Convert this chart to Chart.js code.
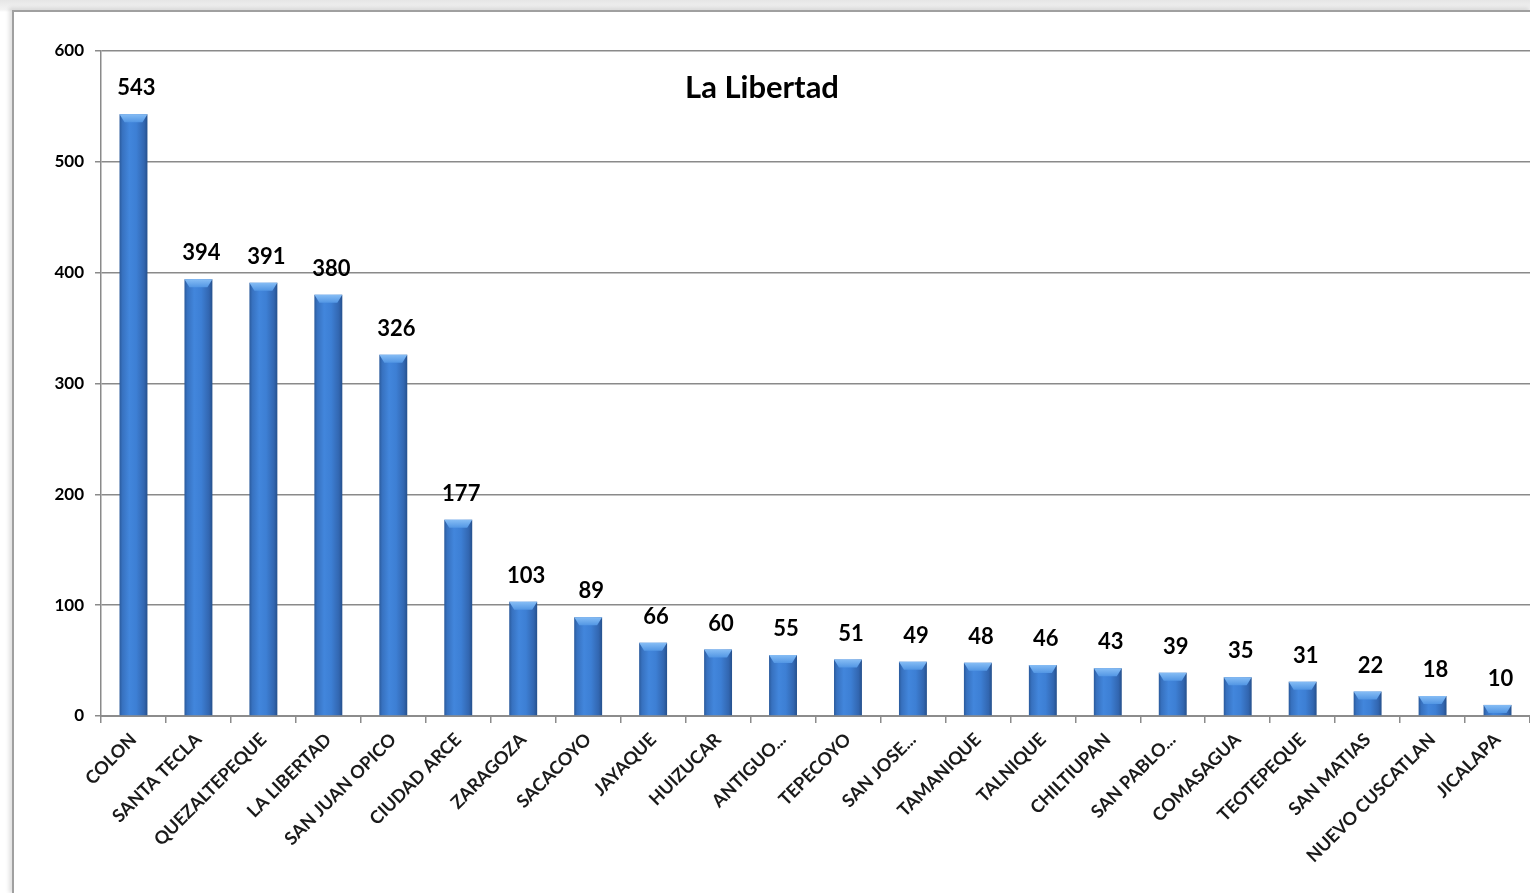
<!DOCTYPE html>
<html>
<head>
  <meta charset="UTF-8">
  <title>La Libertad</title>
  <script src="https://cdn.jsdelivr.net/npm/chart.js"></script>
  <style>
    html, body { margin: 0; padding: 0; background: #ffffff; }
    body { width: 1530px; height: 893px; overflow: hidden; position: relative;
           background: linear-gradient(#e6e6e6, #f4f4f4 10px, #ffffff 12px); }
    #marco { position: absolute; left: 12px; top: 10px; width: 1518px; height: 883px;
             background: #ffffff; border-left: 2px solid #a0a0a0; border-top: 2px solid #a0a0a0;
             box-shadow: -3px -2px 4px rgba(0,0,0,0.12); }
  </style>
</head>
<body>
  <div id="marco">
    <canvas id="grafica" width="1516" height="881"></canvas>
  </div>
  <script>
    // municipios y casos
    const municipios = ["COLON", "SANTA TECLA", "QUEZALTEPEQUE", "LA LIBERTAD", "SAN JUAN OPICO",
      "CIUDAD ARCE", "ZARAGOZA", "SACACOYO", "JAYAQUE", "HUIZUCAR", "ANTIGUO...", "TEPECOYO",
      "SAN JOSE...", "TAMANIQUE", "TALNIQUE", "CHILTIUPAN", "SAN PABLO...", "COMASAGUA",
      "TEOTEPEQUE", "SAN MATIAS", "NUEVO CUSCATLAN", "JICALAPA"];
    const casos = [543, 394, 391, 380, 326, 177, 103, 89, 66, 60, 55, 51, 49, 48, 46, 43, 39, 35, 31, 22, 18, 10];
    const ticksY = [0, 100, 200, 300, 400, 500, 600];
    const titulo = "La Libertad";

    const anchoBarra = 0.43;
    const fuente = "Lato, 'Open Sans', sans-serif";

    // degradado horizontal de cada barra (efecto cilindro)
    function colorBarra(ctx) {
      const chart = ctx.chart;
      if (!chart.chartArea || !chart.scales.x) return "#3d7fd6";
      const x = chart.scales.x.getPixelForValue(ctx.dataIndex);
      const w = chart.scales.x.width / municipios.length * anchoBarra;
      const g = chart.ctx.createLinearGradient(x - w / 2, 0, x + w / 2, 0);
      g.addColorStop(0, "#2a5a9c");
      g.addColorStop(0.1, "#3771bf");
      g.addColorStop(0.35, "#4286dc");
      g.addColorStop(0.6, "#3d7fd4");
      g.addColorStop(0.88, "#3266b0");
      g.addColorStop(1, "#25508c");
      return g;
    }

    // tapa clara arriba de cada barra y valores encima
    const extras = {
      id: "extras",
      afterDatasetsDraw(chart) {
        const c = chart.ctx;
        const meta = chart.getDatasetMeta(0);
        c.save();
        meta.data.forEach((bar, i) => {
          const w = bar.width;
          const l = bar.x - w / 2, r = bar.x + w / 2, t = bar.y;
          const h = Math.min(8, bar.base - bar.y);
          const g = c.createLinearGradient(0, t, 0, t + h);
          g.addColorStop(0, "#86bdf5");
          g.addColorStop(1, "#5296e4");
          c.fillStyle = g;
          c.beginPath();
          c.moveTo(l, t);
          c.lineTo(r, t);
          c.lineTo(r - 5, t + h);
          c.lineTo(l + 5, t + h);
          c.closePath();
          c.fill();
          c.fillStyle = "#000000";
          c.font = "bold 22px " + fuente;
          c.textAlign = "center";
          c.textBaseline = "middle";
          c.fillText(String(casos[i]), bar.x + 3, t - 26);
        });
        // titulo dentro del area de la grafica
        const a = chart.chartArea;
        c.font = "bold 31px " + fuente;
        c.textAlign = "center";
        c.textBaseline = "middle";
        c.fillStyle = "#000000";
        c.fillText(titulo, 762 - 14, a.top + 37);
        c.restore();
      }
    };

    new Chart(document.getElementById("grafica"), {
      type: "bar",
      data: {
        labels: municipios,
        datasets: [{
          data: casos,
          backgroundColor: colorBarra,
          borderWidth: 0,
          barPercentage: anchoBarra,
          categoryPercentage: 1
        }]
      },
      options: {
        responsive: false,
        animation: false,
        events: [],
        layout: { padding: { top: 39, left: 0, right: 0, bottom: 0 } },
        plugins: { legend: { display: false }, tooltip: { enabled: false }, title: { display: false } },
        scales: {
          x: {
            grid: { display: true, drawOnChartArea: false, drawTicks: true, tickLength: 7,
                    color: "#8c8c8c", lineWidth: 1.5, offset: true },
            border: { display: true, color: "#8c8c8c", width: 2 },
            ticks: { minRotation: 45, maxRotation: 45, autoSkip: false, padding: 6,
                     color: "#1a1a1a", font: { family: fuente, size: 18, weight: "bold" } },
            afterFit(s) { s.height = 881 - 704; }
          },
          y: {
            min: 0, max: 600,
            afterBuildTicks(s) { s.ticks = ticksY.map(v => ({ value: v })); },
            grid: { color: "#8a8a8a", lineWidth: 1.5, drawTicks: true, tickLength: 6 },
            border: { display: true, color: "#8a8a8a", width: 1.5 },
            ticks: { padding: 11, color: "#000000",
                     font: { family: fuente, size: 17, weight: "bold" } },
            afterFit(s) { s.width = 87; }
          }
        }
      },
      plugins: [extras]
    });
  </script>
</body>
</html>
